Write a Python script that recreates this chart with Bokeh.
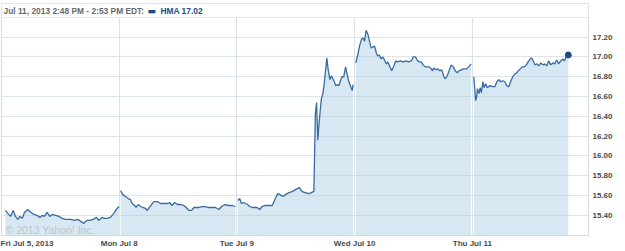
import numpy as np
from bokeh.plotting import figure
from bokeh.models import FixedTicker, NumeralTickFormatter, Label, BoxAnnotation, Range1d
from bokeh.embed import file_html
from bokeh.resources import INLINE

# ---- data (minutes after 9:30 open, price) ----
day_labels = ["Fri Jul 5, 2013", "Mon Jul 8", "Tue Jul 9", "Wed Jul 10", "Thu Jul 11"]
y_ticks = [15.4, 15.6, 15.8, 16.0, 16.2, 16.4, 16.6, 16.8, 17.0, 17.2]
grid_ticks = y_ticks + [17.4]

fri_min = [13,21,30,39,46,54,61,69,76,87,98,107,118,127,135,142,151,160,168,179,190,201,212,229,242,253,262,273,282,293,304,315,322,334,341,350,361,372,383,389]
fri_val = [15.45,15.42,15.39,15.45,15.39,15.36,15.39,15.37,15.43,15.46,15.43,15.41,15.40,15.38,15.40,15.39,15.43,15.39,15.41,15.40,15.39,15.37,15.36,15.36,15.35,15.36,15.34,15.32,15.35,15.35,15.36,15.38,15.35,15.38,15.37,15.37,15.38,15.42,15.47,15.49]

mon_min = [5,12,21,30,37,43,51,56,63,71,78,87,93,100,107,115,126,137,148,159,167,175,184,193,203,214,222,231,240,248,264,280,295,308,319,330,339,350,363,376,385]
mon_val = [15.65,15.61,15.59,15.57,15.56,15.52,15.50,15.48,15.51,15.49,15.48,15.47,15.45,15.48,15.51,15.54,15.54,15.52,15.52,15.52,15.53,15.50,15.53,15.51,15.51,15.50,15.48,15.45,15.45,15.48,15.48,15.49,15.48,15.48,15.48,15.46,15.49,15.51,15.50,15.50,15.49]

tue_min = [3,9,15,22,28,35,42,51,59,67,75,84,95,106,117,126,135,143,152,161,172,183,194,207,216,227,238,247,253,255,260,264,268,271,277,280,285,290,295,298,302,308,313,318,323,327,333,338,343,348,354,360,365,370,376,382,385]
tue_val = [15.55,15.57,15.52,15.53,15.52,15.51,15.49,15.48,15.48,15.48,15.46,15.49,15.50,15.50,15.50,15.56,15.62,15.61,15.59,15.61,15.63,15.64,15.66,15.68,15.64,15.63,15.62,15.63,15.64,15.64,16.43,16.54,16.16,16.29,16.49,16.58,16.63,16.75,16.90,16.99,16.88,16.77,16.81,16.78,16.75,16.71,16.72,16.71,16.76,16.80,16.80,16.90,16.83,16.76,16.71,16.66,16.72]

wed_min = [4,11,17,23,28,33,38,44,49,55,60,66,72,77,82,88,93,99,105,110,117,123,130,136,143,152,161,170,179,188,194,202,207,214,221,227,234,241,247,254,258,262,269,276,282,289,296,301,307,313,320,327,333,340,346,353,361,371,378,386]
wed_val = [16.94,17.03,17.12,17.18,17.19,17.16,17.27,17.23,17.16,17.09,17.10,17.11,17.04,17.01,17.02,16.98,17.00,16.97,16.93,16.95,16.90,16.86,16.91,16.96,16.95,16.96,16.95,16.96,16.95,16.96,17.00,17.00,16.97,16.95,16.95,16.92,16.90,16.90,16.90,16.88,16.86,16.89,16.87,16.88,16.86,16.87,16.80,16.78,16.81,16.86,16.92,16.90,16.86,16.84,16.86,16.87,16.88,16.88,16.90,16.93]

thu_min = [5,11,14,17,22,26,30,35,39,44,50,57,66,75,81,88,94,101,108,114,121,128,134,141,147,152,159,165,172,179,185,192,196,202,207,214,220,227,234,240,247,253,260,267,273,280,286,293,300,305,311,318]
thu_val = [16.80,16.56,16.59,16.68,16.63,16.69,16.64,16.75,16.69,16.73,16.69,16.71,16.70,16.70,16.75,16.77,16.75,16.76,16.75,16.71,16.70,16.76,16.80,16.83,16.84,16.86,16.88,16.90,16.90,16.92,16.95,16.98,16.99,16.96,16.92,16.93,16.91,16.94,16.92,16.93,16.91,16.96,16.92,16.94,16.93,16.97,16.93,16.96,16.98,16.96,17.00,17.02]

days = [(fri_min, fri_val), (mon_min, mon_val), (tue_min, tue_val), (wed_min, wed_val), (thu_min, thu_val)]
session_minutes = 390
symbol = "HMA"
last_price = thu_val[-1]
header = "Jul 11, 2013 2:48 PM - 2:53 PM EDT:"

LINE = "#3a6b9f"
FILL = "#a9cbe5"
GRID = "#dce3e9"
FONT = "Liberation Sans"

p = figure(width=625, height=251, output_backend="svg", toolbar_location=None,
           x_range=Range1d(0, 4.987), y_range=Range1d(15.197, 17.540),
           x_axis_location="below", y_axis_location="right",
           min_border_left=1, min_border_right=37, min_border_top=3, min_border_bottom=16)
p.outline_line_color = "#d5dde4"
p.background_fill_color = "white"
p.border_fill_color = "white"

for d, (mins, vals) in enumerate(days):
    xs = d + np.array(mins) / session_minutes
    p.varea(x=xs, y1=15.0, y2=np.array(vals), fill_color=FILL, fill_alpha=0.45)
    p.line(x=xs, y=np.array(vals), line_color=LINE, line_width=1.3)

last_x = 4 + thu_min[-1] / session_minutes
p.scatter(x=[last_x], y=[last_price], size=6, color="#1d4c85")

# grids
p.xgrid.ticker = FixedTicker(ticks=[0, 1, 2, 3, 4])
p.ygrid.ticker = FixedTicker(ticks=grid_ticks)
p.xgrid.grid_line_color = GRID
p.ygrid.grid_line_color = GRID

# header band
p.add_layout(BoxAnnotation(bottom=17.40, fill_color="white", fill_alpha=1.0, line_alpha=0))

# y axis (right)
ya = p.yaxis[0]
ya.ticker = FixedTicker(ticks=y_ticks)
ya.formatter = NumeralTickFormatter(format="0.00")
ya.axis_line_color = None
ya.major_tick_line_color = None
ya.minor_tick_line_color = None
ya.major_tick_out = 0
ya.major_label_standoff = 4
ya.major_label_text_font = FONT
ya.major_label_text_font_style = "bold"
ya.major_label_text_font_size = "8px"
ya.major_label_text_color = "#4a4a4a"

# x axis (below)
xa = p.xaxis[0]
xa.ticker = FixedTicker(ticks=[0, 1, 2, 3, 4])
xa.major_label_overrides = {i: day_labels[i] for i in range(5)}
xa.axis_line_color = None
xa.major_tick_line_color = None
xa.minor_tick_line_color = None
xa.major_tick_out = 0
xa.major_label_standoff = 3
xa.major_label_text_font = FONT
xa.major_label_text_font_style = "bold"
xa.major_label_text_font_size = "8px"
xa.major_label_text_color = "#4a4a4a"

# header texts
p.add_layout(Label(x=2, y=225, x_units="screen", y_units="screen",
                   text=header, text_font=FONT, text_font_style="bold",
                   text_font_size="8.4px", text_color="#6a6a6a",
                   text_align="left", text_baseline="middle"))
p.add_layout(Label(x=146, y=225, x_units="screen", y_units="screen",
                   text="\u25ac", text_font="DejaVu Sans",
                   text_font_size="9px", text_color="#1d4c85",
                   text_align="left", text_baseline="middle"))
p.add_layout(Label(x=159, y=225, x_units="screen", y_units="screen",
                   text=f"{symbol} {last_price:.2f}", text_font=FONT, text_font_style="bold",
                   text_font_size="8.4px", text_color="#1d4c85",
                   text_align="left", text_baseline="middle"))

# watermark
p.add_layout(Label(x=4, y=6, x_units="screen", y_units="screen",
                   text="\u00a9 2013 Yahoo! Inc.", text_font=FONT,
                   text_font_size="10.5px", text_color="#b9c5cf",
                   text_align="left", text_baseline="middle"))

open("out.html", "w").write(file_html(p, INLINE))
